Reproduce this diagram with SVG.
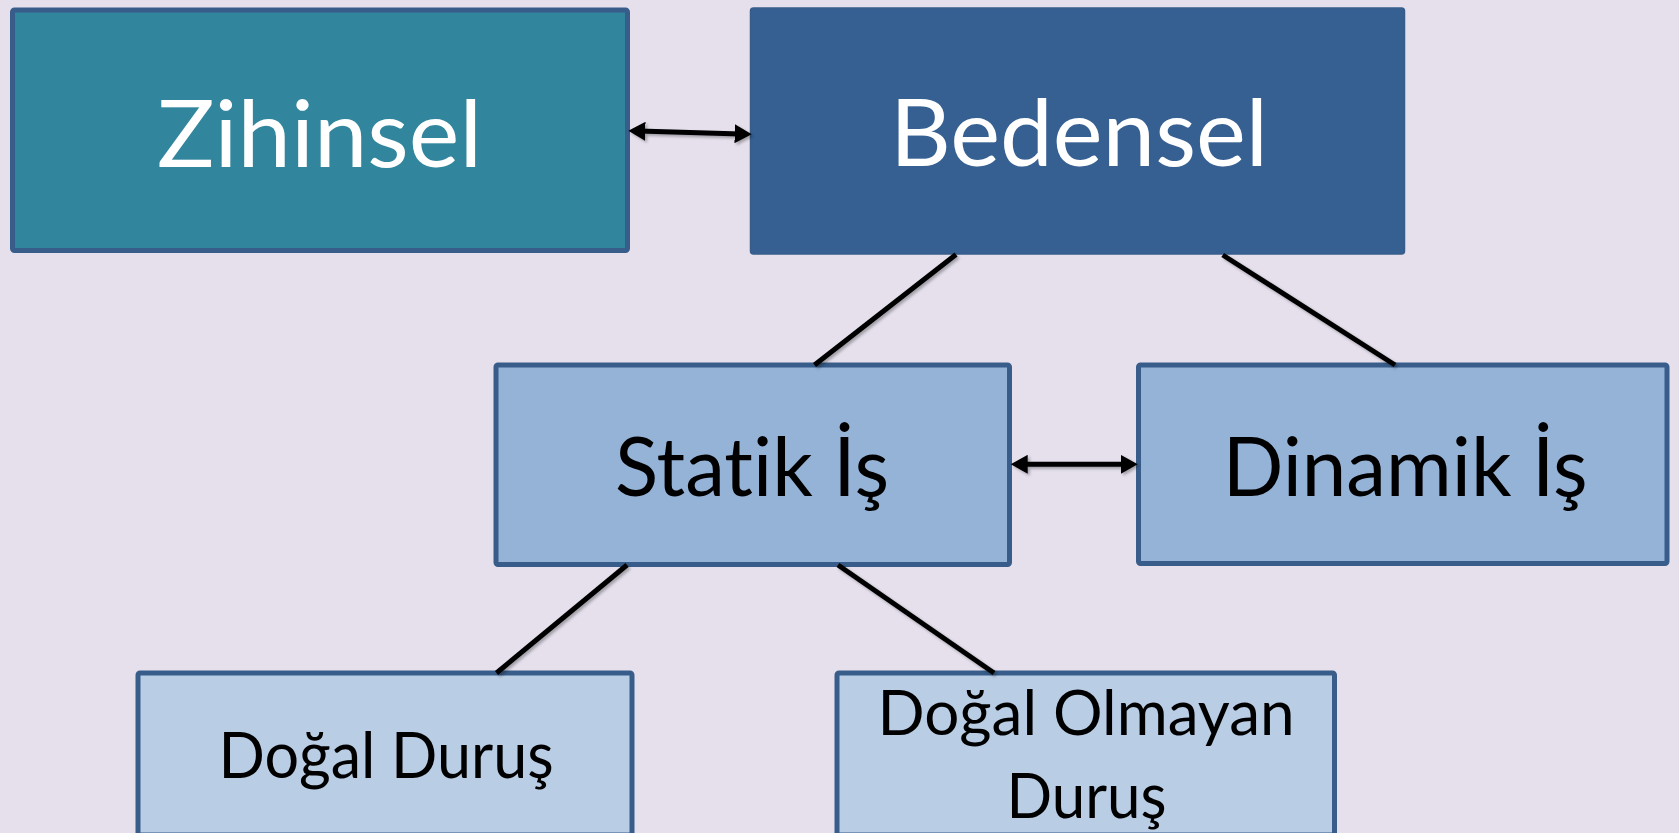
<svg xmlns="http://www.w3.org/2000/svg" width="1679" height="833" viewBox="0 0 1679 833">
  <defs>
    <filter id="sh" x="-20%" y="-20%" width="140%" height="140%">
      <feDropShadow dx="2" dy="2" stdDeviation="1.5" flood-color="#000" flood-opacity="0.3"/>
    </filter>
    <marker id="ah" markerUnits="userSpaceOnUse" markerWidth="18" markerHeight="19" viewBox="0 0 18 19" refX="6" refY="9.5" orient="auto-start-reverse">
      <path d="M0,0 L17,9.5 L0,19 z" fill="#000"/>
    </marker>
    <style>
      .lbl { font-family: Lato, "Liberation Sans", Arial, sans-serif; font-variant-ligatures: none; font-feature-settings: "liga" 0, "clig" 0; }
      .white { fill: #ffffff; }
      .black { fill: #000000; }
      .conn { stroke: #000; stroke-width: 5; fill: none; stroke-linecap: butt; }
      .box { stroke: #385D8A; stroke-width: 5; }
    </style>
  </defs>
  <rect x="0" y="0" width="1679" height="833" fill="#E5E0EC"/>

  <g id="zihinsel">
    <rect class="box" x="12.5" y="10" width="615" height="240.5" rx="2" fill="#31859C"/>
    <text class="lbl white" x="157" y="166.7" font-size="94" textLength="325" lengthAdjust="spacingAndGlyphs">Zihinsel</text>
  </g>

  <g id="bedensel">
    <rect x="750.5" y="8" width="654" height="246" rx="3" fill="#366092" stroke="#385D8A" stroke-width="1.5"/>
    <text class="lbl white" x="890" y="166" font-size="93" textLength="378" lengthAdjust="spacingAndGlyphs">Bedensel</text>
  </g>

  <g id="statik">
    <rect class="box" x="496" y="365" width="513.5" height="199.5" rx="2" fill="#95B3D7" stroke-width="4.5"/>
    <text class="lbl black" x="615" y="496" font-size="81" textLength="274" lengthAdjust="spacingAndGlyphs">Statik İş</text>
  </g>

  <g id="dinamik">
    <rect class="box" x="1138.5" y="365" width="528.5" height="198.5" rx="2" fill="#95B3D7" stroke-width="4.5"/>
    <text class="lbl black" x="1222.7" y="496" font-size="81" textLength="365" lengthAdjust="spacingAndGlyphs">Dinamik İş</text>
  </g>

  <g id="dogal">
    <rect class="box" x="138" y="673" width="494" height="162" rx="2" fill="#B9CDE5" stroke-width="4.5"/>
    <text class="lbl black" x="218.6" y="777.7" font-size="63" textLength="335" lengthAdjust="spacingAndGlyphs">Doğal Duruş</text>
  </g>

  <g id="dogal-olmayan">
    <rect class="box" x="837" y="673" width="497.5" height="162" rx="2" fill="#B9CDE5" stroke-width="4.5"/>
    <text class="lbl black" x="877.6" y="735" font-size="61" textLength="417" lengthAdjust="spacingAndGlyphs">Doğal Olmayan</text>
    <text class="lbl black" x="1006.6" y="818" font-size="61" textLength="160" lengthAdjust="spacingAndGlyphs">Duruş</text>
  </g>

  <g id="connectors" filter="url(#sh)">
    <path class="conn" d="M956,254.5 L814.5,365"/>
    <path class="conn" d="M1222.7,255 L1395,365"/>
    <path class="conn" d="M627,565 L496.5,673"/>
    <path class="conn" d="M838,565 L994,673"/>
    <path class="conn" d="M639.3,131 L740.7,134" marker-start="url(#ah)" marker-end="url(#ah)"/>
    <path class="conn" d="M1021.7,464.3 L1126.7,464.3" marker-start="url(#ah)" marker-end="url(#ah)"/>
  </g>
</svg>
